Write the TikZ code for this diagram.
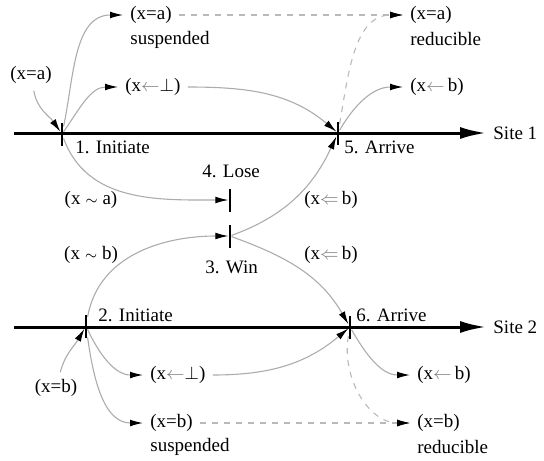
\documentclass[tikz,border=0pt]{standalone}
\usepackage{amssymb}
\usepackage{amsmath}
\usepackage{fontspec}
\setmainfont{Liberation Serif}
\usepackage{tikz}
\usetikzlibrary{arrows}
\usetikzlibrary{arrows.meta}
\tikzset{>={Latex[width=1.2mm,length=1.7mm]}}
\newcommand{\setarr}{\textcolor{gray}{$\leftarrow$}}
\newcommand{\winarr}{\textcolor{gray}{$\Leftarrow$}}
\newcommand{\racearr}{$\scriptstyle\sim$}

\begin{document}
\begin{tikzpicture}[x=0.5pt,y=-0.5pt,font=\fontsize{9.5}{11}\selectfont,
    site/.style={line width=1.5pt,-{Latex[width=6pt,length=13pt]}},
    flow/.style={draw=gray!65,line width=0.55pt,-{Latex[black,width=3.4pt,length=6.5pt]}},
    lazy/.style={draw=gray!55,line width=0.55pt,dashed,-{Latex[black,width=3.4pt,length=6.5pt]}},
    tickmark/.style={fill=black,inner sep=0pt,minimum width=1.2pt,minimum height=11.5pt},
    lbl/.style={anchor=west,inner xsep=3.5pt,inner ysep=1pt},
    evlbl/.style={anchor=west,inner sep=1pt}]
  \useasboundingbox (0,0) rectangle (544,460);

  % Sites
  \coordinate (s1) at (14,133);
  \coordinate (s2) at (14,327);
  \node[lbl] (site1) at (486,133) {Site 1};
  \node[lbl] (site2) at (486,327) {Site 2};
  \draw[site] (s1) -- (site1);
  \draw[site] (s2) -- (site2);

  % Events
  \node[tickmark] (e1) at (62,134) {};
  \node[tickmark] (e2) at (86,326) {};
  \node[tickmark] (e3) at (230,236) {};
  \node[tickmark] (e4) at (230,200) {};
  \node[tickmark] (e5) at (338,133) {};
  \node[tickmark] (e6) at (350,327) {};
  \node[evlbl] (e1l) at (73,147) {1. Initiate};
  \node[evlbl] (e2l) at (96,315) {2. Initiate};
  \node[evlbl] (e3l) at (203,267) {3. Win};
  \node[evlbl] (e4l) at (200,171) {4. Lose};
  \node[evlbl] (e5l) at (342,147) {5. Arrive};
  \node[evlbl] (e6l) at (354,315) {6. Arrive};

  % Values at site 1
  \node (xa0) at (31,75) {(x=a)};
  \node[lbl] (sat) at (123,15) {(x=a)};
  \node[lbl] (sab) at (123,40) {suspended};
  \node[lbl] (ba) at (118,87) {(x\setarr$\bot$)};
  \node[lbl] (rat) at (403,15) {(x=a)};
  \node[lbl] (rab) at (403,39) {reducible};
  \node[lbl] (ca) at (403,87) {(x\setarr\,b)};
  \node (ta) at (91,200) {(x \racearr{} a)};
  \node (wa) at (331,200) {(x\winarr\,b)};

  % Values at site 2
  \node (xb0) at (56,388) {(x=b)};
  \node[lbl] (bb) at (143,375) {(x\setarr$\bot$)};
  \node[lbl] (sbt) at (143,423) {(x=b)};
  \node[lbl] (sbb) at (143,447) {suspended};
  \node[lbl] (cb) at (410,375) {(x\setarr\,b)};
  \node[lbl] (rbt) at (410,423) {(x=b)};
  \node[lbl] (rbb) at (410,447) {reducible};
  \node (tb) at (91,255) {(x \racearr{} b)};
  \node (wb) at (331,255) {(x\winarr\,b)};

  % Flows
  \draw[flow] (xa0) to[out=-80,in=125] (e1);
  \draw[flow] (e1) to[out=78,in=180] (sat);
  \draw[flow] (e1) to[out=55,in=180] (ba);
  \draw[flow] (ba) to[out=0,in=140] (e5);
  \draw[flow] (e1) to[out=-70,in=180] (e4);
  \draw[flow] (e5) to[out=60,in=180] (ca);
  \draw[lazy] (e5) to[out=80,in=180] (rat);
  \draw[lazy] (sat) -- (rat);

  \draw[flow] (xb0) to[out=75,in=-120] (e2);
  \draw[flow] (e2) to[out=80,in=180] (e3);
  \draw[flow] (e3) to[out=20,in=-115] (e5);
  \draw[flow] (e3) to[out=-20,in=120] (e6);
  \draw[flow] (e2) to[out=-65,in=180] (bb);
  \draw[flow] (bb) to[out=0,in=-140] (e6);
  \draw[flow] (e2) to[out=-82,in=180] (sbt);
  \draw[flow] (e6) to[out=-60,in=180] (cb);
  \draw[lazy] (e6) to[out=-100,in=180] (rbt);
  \draw[lazy] (sbt) -- (rbt);
\end{tikzpicture}
\end{document}
